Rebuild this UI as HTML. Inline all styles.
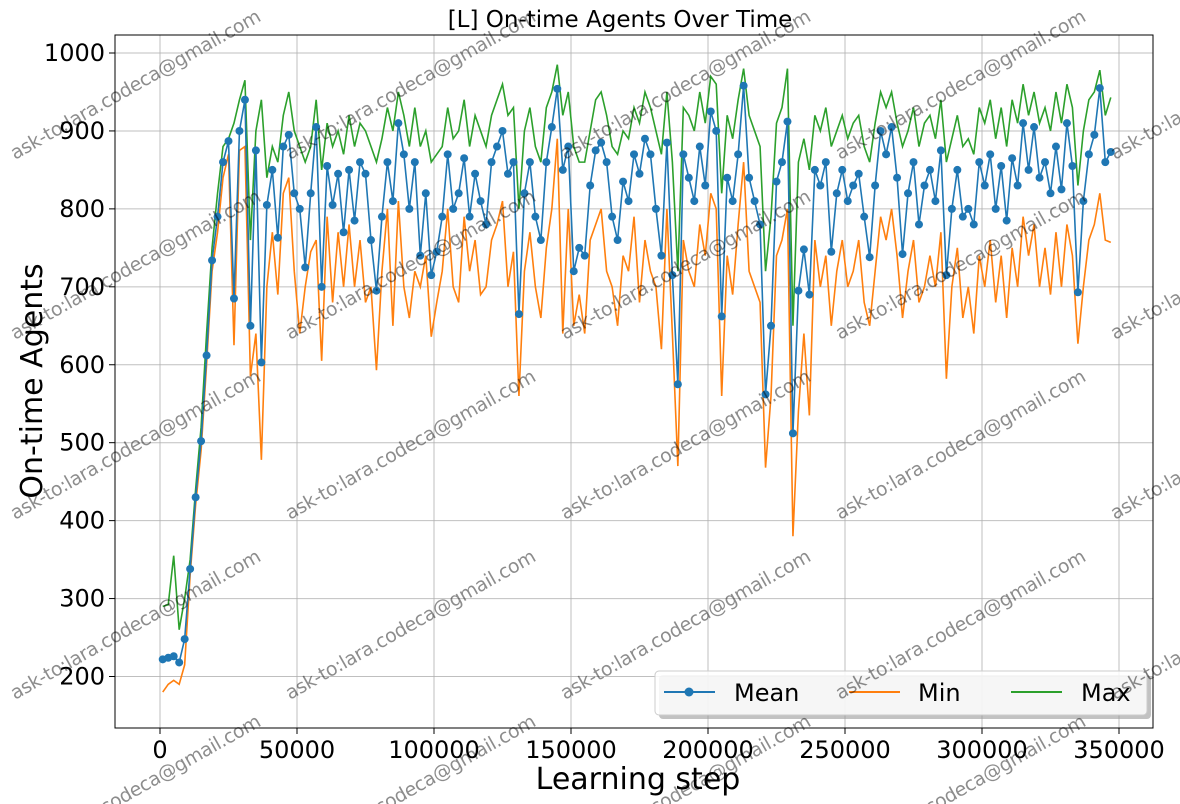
<!DOCTYPE html>
<html><head><meta charset="utf-8"><style>
html,body{margin:0;background:#fff;width:1180px;height:804px;overflow:hidden;}
svg{display:block;font-family:"DejaVu Sans","Liberation Sans",sans-serif;overflow:hidden;}
</style></head><body>
<svg id="chart" width="1180" height="804" viewBox="0 0 1180 804">
<g id="grid"></g>
<g id="series"></g>
<g id="axes"></g>
<text x="620" y="27" font-size="23" text-anchor="middle">[L] On-time Agents Over Time</text>
<text x="638" y="789" font-size="30" text-anchor="middle">Learning step</text>
<text transform="translate(42,381) rotate(-90)" font-size="30" text-anchor="middle">On-time Agents</text>
<g>
<rect x="659" y="675" width="492" height="44" rx="4" fill="#999" opacity="0.6"/>
<rect x="655" y="671" width="492" height="44" rx="4" fill="#fff" fill-opacity="0.85" stroke="#ccc"/>
<line x1="664" y1="692" x2="715" y2="692" stroke="#1f77b4" stroke-width="2"/>
<circle cx="689" cy="692" r="4.5" fill="#1f77b4"/>
<text x="734" y="701" font-size="24">Mean</text>
<line x1="849" y1="692" x2="900" y2="692" stroke="#ff7f0e" stroke-width="2"/>
<text x="918" y="701" font-size="24">Min</text>
<line x1="1011" y1="692" x2="1062" y2="692" stroke="#2ca02c" stroke-width="2"/>
<text x="1081" y="701" font-size="24">Max</text>
</g>
<g id="wm"></g>
</svg>
<script>
const steps=[];for(let i=0;i<174;i++)steps.push(1000+2000*i);
const meanVals=[222,224,226,218,248,338,430,502,612,734,790,860,887,685,900,940,650,875,603,805,850,763,880,895,820,800,725,820,905,700,855,805,845,770,850,785,860,845,760,695,790,860,810,910,870,800,860,740,820,715,745,790,870,800,820,865,790,845,810,780,860,880,900,845,860,665,820,860,790,760,860,905,954,850,880,720,750,740,830,875,885,860,790,760,835,810,870,845,890,870,800,740,885,715,575,870,840,810,880,830,925,900,662,840,810,870,958,840,810,780,562,650,835,860,912,512,695,748,690,850,830,860,745,820,850,810,830,845,790,738,830,900,870,905,840,742,820,860,780,830,850,810,875,715,800,850,790,800,780,860,830,870,800,855,785,865,830,910,850,905,840,860,820,880,825,910,855,693,810,870,895,955,860,873];
const minVals=[180,190,195,190,215,330,420,490,600,720,770,840,870,625,875,880,585,640,478,700,770,690,820,840,720,640,700,745,760,605,790,680,770,700,780,700,760,680,700,593,720,800,650,810,700,660,720,700,740,636,680,720,800,700,680,790,720,760,690,700,760,780,810,700,745,560,720,770,700,660,750,800,890,640,800,650,690,640,760,780,800,720,700,650,740,720,790,680,760,720,700,620,800,640,470,760,720,700,780,740,820,800,560,740,690,780,860,720,700,680,468,560,740,760,800,380,540,640,535,760,700,740,650,720,760,700,720,760,680,650,720,790,760,800,740,660,720,760,680,700,740,700,770,582,700,750,660,700,640,740,700,760,680,740,660,750,700,790,740,780,700,750,690,770,700,780,740,627,700,760,780,820,760,757];
const maxVals=[290,292,355,260,300,350,440,520,640,750,820,880,890,910,940,965,760,900,940,840,880,860,920,950,900,880,860,880,940,850,910,880,900,870,920,880,910,900,880,860,890,930,900,950,920,880,930,880,900,860,870,880,930,890,900,940,880,920,900,880,920,940,960,920,930,800,900,930,880,860,930,950,985,920,950,880,860,860,900,940,950,920,880,870,900,890,930,910,950,930,900,870,950,860,720,930,920,900,950,910,970,960,820,920,890,940,980,920,900,880,720,790,910,930,980,650,860,890,850,920,900,930,880,900,920,890,910,920,880,860,910,950,930,950,910,880,900,930,880,910,920,890,940,860,890,920,880,890,870,930,910,940,890,930,880,940,910,960,920,950,910,930,900,950,910,960,930,830,900,940,950,978,920,943];
const xTicks=[0,50000,100000,150000,200000,250000,300000,350000];
const yTicks=[200,300,400,500,600,700,800,900,1000];
const L=115,R=1153,T=35,B=728;
const X=v=>160+v*(959/350000);
const Y=v=>53+(1000-v)*(623.5/800);
const NS='http://www.w3.org/2000/svg';
function mk(tag,attrs,parent){const e=document.createElementNS(NS,tag);for(const k in attrs)e.setAttribute(k,attrs[k]);parent.appendChild(e);return e;}
const grid=document.getElementById('grid'),axes=document.getElementById('axes'),ser=document.getElementById('series');
xTicks.forEach(t=>{
 const g=mk('line',{x1:X(t),x2:X(t),y1:T,y2:B,stroke:'#b0b0b0','stroke-width':1,opacity:0.8},grid);
 
 
 mk('line',{x1:X(t),x2:X(t),y1:B,y2:B+6,stroke:'#000','stroke-width':1},axes);
 const tx=mk('text',{x:X(t),y:B+30,'font-size':24,'text-anchor':'middle'},axes);tx.textContent=t;
 
 
});
yTicks.forEach(t=>{
 const g=mk('line',{x1:L,x2:R,y1:Y(t),y2:Y(t),stroke:'#b0b0b0','stroke-width':1,opacity:0.8},grid);
 
 
 mk('line',{x1:L-6,x2:L,y1:Y(t),y2:Y(t),stroke:'#000','stroke-width':1},axes);
 const tx=mk('text',{x:L-10,y:Y(t)+8,'font-size':24,'text-anchor':'end'},axes);tx.textContent=t;
 
 
});
const frame=mk('rect',{x:L,y:T,width:R-L,height:B-T,fill:'none',stroke:'#000','stroke-width':1},axes);


function line(vals,color,name){
 const p=mk('polyline',{points:vals.map((v,i)=>X(steps[i])+','+Y(v)).join(' '),fill:'none',stroke:color,'stroke-width':1.6},ser);
 
 
}
line(minVals,'#ff7f0e','min-line');
line(maxVals,'#2ca02c','max-line');
line(meanVals,'#1f77b4','mean-line');
meanVals.forEach((v,i)=>{
 const c=mk('circle',{cx:X(steps[i]),cy:Y(v),r:4,fill:'#1f77b4'},ser);
 
 
});
const wm=document.getElementById('wm');
[15,290,565,840,1115].forEach(x=>{
 [160,340,520,700,865].forEach(y=>{
  const t=mk('text',{x:x,y:y,'font-size':19,fill:'#000','fill-opacity':0.45,textLength:284,transform:`rotate(-29.5 ${x} ${y})`},wm);
  t.textContent='ask-to:lara.codeca@gmail.com';
  
  
 });
});
</script>
</body></html>
